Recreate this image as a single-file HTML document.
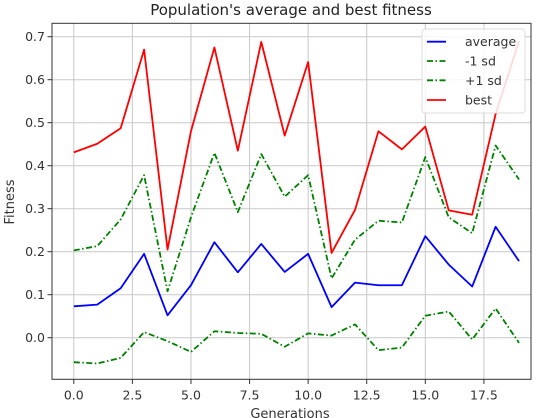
<!DOCTYPE html>
<html><head><meta charset="utf-8"><style>
body{margin:0;background:#fff;}
svg{display:block;font-family:"DejaVu Sans","Liberation Sans",sans-serif;}
</style></head><body>
<svg id="chart" width="538" height="418" viewBox="0 0 538 418">
<text x="291" y="15" font-size="15" text-anchor="middle" fill="#222">Population's average and best fitness</text>
<g id="grid"></g>
<g id="ticks"></g>
<g id="series"></g>
<rect x="52" y="23.3" width="479" height="356" fill="none" stroke="#333" stroke-width="1"/>
<text x="290" y="418" font-size="13" text-anchor="middle" fill="#333">Generations</text>
<text x="0" y="0" font-size="13" text-anchor="middle" fill="#333" transform="translate(14,202) rotate(-90)">Fitness</text>
<g>
<rect x="422" y="29" width="103" height="84" rx="3" fill="#fff" fill-opacity="0.85" stroke="#ddd"/>
<line x1="427" y1="41.7" x2="446" y2="41.7" stroke="#0000ff" stroke-width="1.8"/>
<text x="465" y="46.2" font-size="12.5" fill="#333">average</text>
<line x1="427" y1="61" x2="446" y2="61" stroke="#008000" stroke-width="1.8" stroke-dasharray="6,2.5,1.5,2.5"/>
<text x="465" y="65.5" font-size="12.5" fill="#333">-1 sd</text>
<line x1="427" y1="80.3" x2="446" y2="80.3" stroke="#008000" stroke-width="1.8" stroke-dasharray="6,2.5,1.5,2.5"/>
<text x="465" y="84.8" font-size="12.5" fill="#333">+1 sd</text>
<line x1="427" y1="100" x2="446" y2="100" stroke="#ff0000" stroke-width="1.8"/>
<text x="465" y="104.5" font-size="12.5" fill="#333">best</text>
</g>
</svg>
<script>
const generations=[0,1,2,3,4,5,6,7,8,9,10,11,12,13,14,15,16,17,18,19];
const average=[0.073,0.077,0.115,0.195,0.052,0.122,0.222,0.152,0.218,0.153,0.195,0.071,0.128,0.122,0.122,0.236,0.170,0.119,0.258,0.178];
const plusSd=[0.203,0.213,0.275,0.378,0.108,0.28,0.43,0.292,0.427,0.328,0.378,0.138,0.228,0.272,0.268,0.42,0.28,0.243,0.447,0.368];
const minusSd=[-0.057,-0.060,-0.047,0.013,-0.008,-0.033,0.015,0.011,0.009,-0.021,0.010,0.005,0.031,-0.029,-0.023,0.051,0.061,-0.004,0.068,-0.012];
const best=[0.431,0.451,0.487,0.670,0.205,0.48,0.675,0.435,0.688,0.47,0.641,0.197,0.297,0.480,0.438,0.491,0.296,0.286,0.52,0.69];
const xTicks=[0,2.5,5,7.5,10,12.5,15,17.5];
const xTickLabels=["0.0","2.5","5.0","7.5","10.0","12.5","15.0","17.5"];
const yTicks=[0,0.1,0.2,0.3,0.4,0.5,0.6,0.7];
const yTickLabels=["0.0","0.1","0.2","0.3","0.4","0.5","0.6","0.7"];

const NS="http://www.w3.org/2000/svg";
const X=v=>73.8+v*23.434;
const Y=v=>337.7-v*430;
function mk(tag,attrs,parent){const e=document.createElementNS(NS,tag);for(const k in attrs)e.setAttribute(k,attrs[k]);parent.appendChild(e);return e;}
const grid=document.getElementById('grid'),ticks=document.getElementById('ticks'),series=document.getElementById('series');
xTicks.forEach((t,i)=>{
  const g=mk('line',{x1:X(t),x2:X(t),y1:23.3,y2:379.3,stroke:'#c8c8c8','stroke-width':1},grid);
  
  
  mk('line',{x1:X(t),x2:X(t),y1:379.3,y2:384,stroke:'#333'},ticks);
  const tx=mk('text',{x:X(t),y:399.5,'font-size':12.5,'text-anchor':'middle',fill:'#333'},ticks);
  tx.textContent=xTickLabels[i];
  
  
});
yTicks.forEach((t,i)=>{
  const g=mk('line',{x1:52,x2:531,y1:Y(t),y2:Y(t),stroke:'#c8c8c8','stroke-width':1},grid);
  
  
  mk('line',{x1:47.5,x2:52,y1:Y(t),y2:Y(t),stroke:'#333'},ticks);
  const tx=mk('text',{x:45,y:Y(t)+4.5,'font-size':12.5,'text-anchor':'end',fill:'#333'},ticks);
  tx.textContent=yTickLabels[i];
  
  
});
function line(vals,color,dash,name){
  const p=mk('polyline',{points:vals.map((v,i)=>X(generations[i])+','+Y(v)).join(' '),fill:'none',stroke:color,'stroke-width':1.8,'stroke-linejoin':'round'},series);
  if(dash)p.setAttribute('stroke-dasharray',dash);
  
  
}
line(average,'#0000ff',null,'average-line');
line(minusSd,'#008000','6,2.5,1.5,2.5','minus-sd-line');
line(plusSd,'#008000','6,2.5,1.5,2.5','plus-sd-line');
line(best,'#ff0000',null,'best-line');
</script>
</body></html>
